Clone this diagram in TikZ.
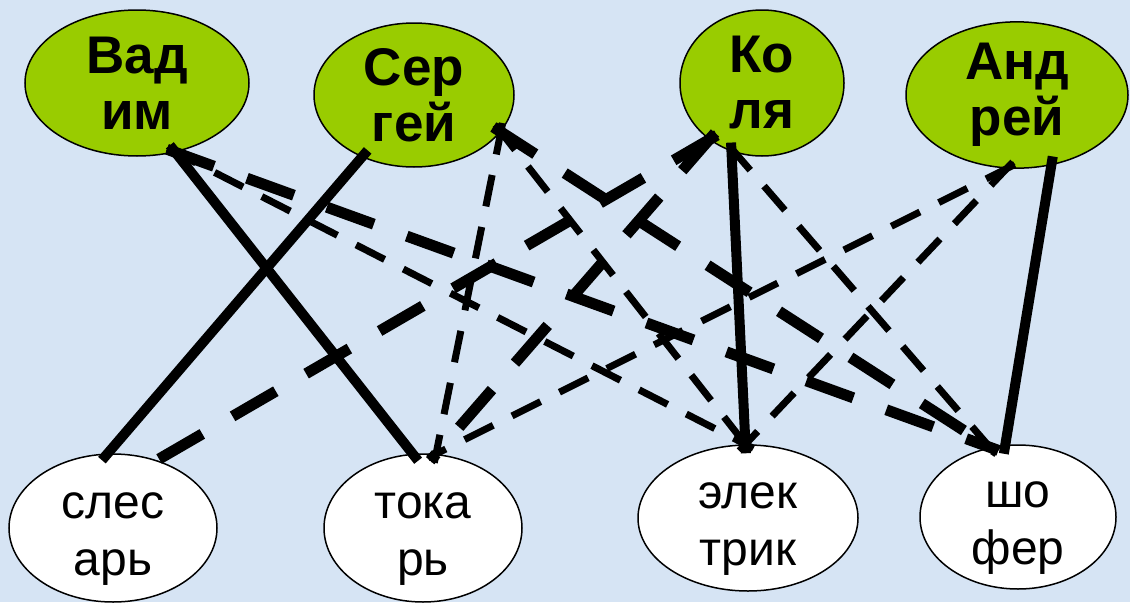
\documentclass[tikz,border=0pt]{standalone}
\usepackage{fontspec}
\setmainfont{Liberation Sans}
\usetikzlibrary{shapes.geometric}
\definecolor{sky}{RGB}{214,228,244}
\definecolor{leaf}{RGB}{153,204,0}

\begin{document}
\begin{tikzpicture}[x=1pt, y=-1pt,
    boy/.style={ellipse, draw, line width=1.5pt, fill=leaf, inner sep=0pt, align=center,
      font=\fontsize{53}{56}\selectfont\bfseries},
    job/.style={ellipse, draw, line width=1.5pt, fill=white, inner sep=0pt, align=center,
      text height=96pt, text depth=2pt, font=\fontsize{48}{57}\selectfont},
    link/.style={line width=10pt, shorten <=-9pt, shorten >=-9pt},
    far/.style={link, line width=11pt, dash pattern=on 50pt off 35pt},
    near/.style={link, line width=7pt, dash pattern=on 32pt off 21pt}]
  \fill[sky] (0,0) rectangle (1130,602);
  % people
  \node[boy, minimum width=224pt, minimum height=146pt] (vadim) at (137,83) {Вад\\им};
  \node[boy, minimum width=200pt, minimum height=144pt] (sergey) at (414,95) {Сер\\гей};
  \node[boy, minimum width=164pt, minimum height=146pt] (kolya) at (762,83) {Ко\\ля};
  \node[boy, minimum width=222pt, minimum height=144pt] (andrey) at (1017,95) {Анд\\рей};
  % jobs
  \node[job, minimum width=208pt, minimum height=148pt] (slesar) at (113,528) {слес\\арь};
  \node[job, minimum width=198pt, minimum height=148pt] (tokar) at (423,528) {тока\\рь};
  \node[job, minimum width=220pt, minimum height=146pt] (elektrik) at (748,518) {элек\\трик};
  \node[job, minimum width=196pt, minimum height=144pt] (shofer) at (1018,517) {шо\\фер};
  % answers
  \draw[link] (vadim.299) -- (tokar.98);
  \draw[link] (sergey.230) -- (slesar.94);
  \draw[link] (kolya.246) -- (elektrik.92);
  \draw[link] (andrey.296) -- (shofer.100);
  % ruled out
  \draw[far] (vadim.299) -- (shofer.112);
  \draw[far] (sergey.337) -- (shofer.112);
  \draw[far] (kolya.227) -- (slesar.57);
  \draw[far] (kolya.227) -- (tokar.80);
  \draw[near] (vadim.299) -- (elektrik.92);
  \draw[near] (sergey.337) -- (tokar.80);
  \draw[near] (sergey.337) -- (elektrik.92);
  \draw[near] (andrey.262) -- (tokar.80);
  \draw[near] (andrey.262) -- (elektrik.92);
  \draw[near] (kolya.249) -- (shofer.112);
\end{tikzpicture}
\end{document}
